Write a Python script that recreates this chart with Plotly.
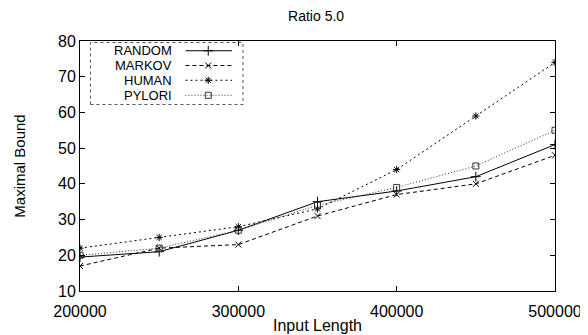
import plotly.graph_objects as go

# ---- data ----
input_length = [200000, 250000, 300000, 350000, 400000, 450000, 500000]
random_vals = [19.5, 21, 27, 35, 38, 42, 51]
markov_vals = [17, 22, 23, 31, 37, 40, 48]
human_vals = [22, 25, 28, 33, 44, 59, 74]
pylori_vals = [20, 22, 27, 34, 39, 45, 55]

series_names = ["RANDOM", "MARKOV", "HUMAN", "PYLORI"]
x_ticks = [200000, 300000, 400000, 500000]
y_ticks = [10, 20, 30, 40, 50, 60, 70, 80]

styles = {
    "RANDOM": dict(dash="solid", symbol="cross-thin", color="#000000", size=7),
    "MARKOV": dict(dash="4px,3px", symbol="x-thin", color="#000000", size=6),
    "HUMAN": dict(dash="2px,3px", symbol="asterisk", color="#000000", size=6),
    "PYLORI": dict(dash="1px,2px", symbol="square-open", color="#333333", size=6),
}
values = {"RANDOM": random_vals, "MARKOV": markov_vals,
          "HUMAN": human_vals, "PYLORI": pylori_vals}

FONT = "Liberation Sans, Arial, sans-serif"

fig = go.Figure()
for name in series_names:
    s = styles[name]
    fig.add_trace(go.Scatter(
        x=input_length, y=values[name], mode="lines+markers", name=name,
        line=dict(color=s["color"], width=1, dash=s["dash"]),
        marker=dict(symbol=s["symbol"], size=s["size"], color=s["color"],
                    line=dict(color=s["color"], width=1)),
        showlegend=False,
    ))

# custom gnuplot-style legend (text left, sample right)
row_y = [0.961, 0.902, 0.843, 0.783]
for name, ry in zip(series_names, row_y):
    s = styles[name]
    fig.add_trace(go.Scatter(
        x=[0.222, 0.270, 0.320], y=[ry, ry, ry], mode="lines",
        line=dict(color=s["color"], width=1, dash=s["dash"]),
        xaxis="x2", yaxis="y2", showlegend=False, hoverinfo="skip",
    ))
    fig.add_trace(go.Scatter(
        x=[0.270], y=[ry], mode="markers",
        marker=dict(symbol=s["symbol"], size=s["size"], color=s["color"],
                    line=dict(color=s["color"], width=1)),
        xaxis="x2", yaxis="y2", showlegend=False, hoverinfo="skip",
    ))
    fig.add_annotation(text=name, x=0.196, y=ry, xref="x2", yref="y2",
                       xanchor="right", yanchor="middle", showarrow=False,
                       borderpad=0,
                       font=dict(family=FONT, size=13, color="#000"))

fig.add_shape(type="rect", xref="x2", yref="y2", x0=0.022, x1=0.343,
              y0=0.746, y1=0.994, line=dict(color="#555", width=1, dash="dot"))

axis_common = dict(showline=True, linecolor="#000", linewidth=1, mirror="ticks",
                   ticks="inside", ticklen=5, tickcolor="#000", showgrid=False,
                   zeroline=False, tickfont=dict(family=FONT, size=16, color="#000"))

fig.update_layout(
    width=588, height=335,
    margin=dict(l=69, r=41, t=33, b=47),
    paper_bgcolor="white", plot_bgcolor="white",
    title=dict(text="Ratio 5.0", x=0.524, xanchor="center", y=0.975, yanchor="middle",
               font=dict(family=FONT, size=14, color="#000")),
    xaxis=dict(range=[200000, 500000], tickvals=x_ticks,
               ticktext=[str(v) for v in x_ticks], ticklabelstandoff=6,
               title=dict(text="Input Length", standoff=0,
                          font=dict(family=FONT, size=16, color="#000")),
               **axis_common),
    yaxis=dict(range=[10, 80], tickvals=y_ticks,
               title=dict(text="Maximal Bound", standoff=28,
                          font=dict(family=FONT, size=15, color="#000")),
               **axis_common),
    xaxis2=dict(range=[0, 1], overlaying="x", visible=False, fixedrange=True),
    yaxis2=dict(range=[0, 1], overlaying="y", visible=False, fixedrange=True),
    showlegend=False,
)

fig.write_html("out.html")
